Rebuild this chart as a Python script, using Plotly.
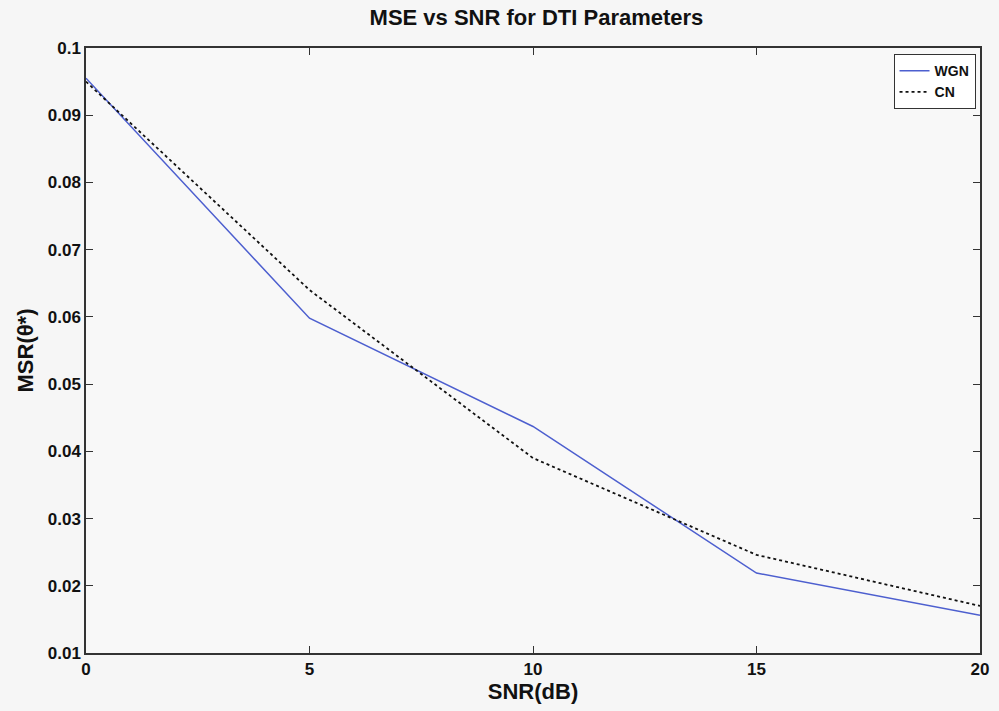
import plotly.graph_objects as go

snr_db = [0, 5, 10, 15, 20]
wgn_mse = [0.0955, 0.0598, 0.0437, 0.0219, 0.0156]
cn_mse = [0.0950, 0.0640, 0.0390, 0.0246, 0.0170]

x_ticks = [0, 5, 10, 15, 20]
y_ticks = [0.01, 0.02, 0.03, 0.04, 0.05, 0.06, 0.07, 0.08, 0.09, 0.1]
y_tick_text = ["0.01", "0.02", "0.03", "0.04", "0.05", "0.06", "0.07", "0.08", "0.09", "0.1"]

font_family = "Liberation Sans, Arial, sans-serif"

fig = go.Figure()
fig.add_trace(go.Scatter(x=snr_db, y=wgn_mse, mode="lines", name="WGN",
                         line=dict(color="#4d5fcf", width=1.5)))
fig.add_trace(go.Scatter(x=snr_db, y=cn_mse, mode="lines", name="CN",
                         line=dict(color="#111111", width=1.8, dash="dot")))

axis_common = dict(
    showgrid=False, zeroline=False, showline=True, linecolor="#333333", linewidth=1.5,
    mirror="ticks", ticks="inside", ticklen=7, tickcolor="#333333",
    tickfont=dict(family=font_family, size=17, color="#111111", weight="bold"),
)

fig.update_layout(
    width=999, height=711,
    margin=dict(l=86, r=10, t=48, b=58),
    paper_bgcolor="#f6f6f6", plot_bgcolor="#f8f8f8",
    title=dict(text="MSE vs SNR for DTI Parameters", x=0.537, xanchor="center",
               y=0.975, yanchor="middle",
               font=dict(family=font_family, size=22, color="#111111", weight="bold")),
    xaxis=dict(range=[0, 20], tickvals=x_ticks,
               title=dict(text="SNR(dB)", standoff=2,
                          font=dict(family=font_family, size=22, color="#111111", weight="bold")),
               **axis_common),
    yaxis=dict(range=[0.01, 0.1], tickvals=y_ticks, ticktext=y_tick_text,
               title=dict(text="MSR(θ*)", standoff=8,
                          font=dict(family=font_family, size=22, color="#111111", weight="bold")),
               **axis_common),
    legend=dict(x=0.995, y=0.99, xanchor="right", yanchor="top",
                bgcolor="#ffffff", bordercolor="#333333", borderwidth=1,
                font=dict(family=font_family, size=14, color="#111111", weight="bold"),
                itemwidth=30, tracegroupgap=0),
    showlegend=True,
)

fig.write_html("out.html")
